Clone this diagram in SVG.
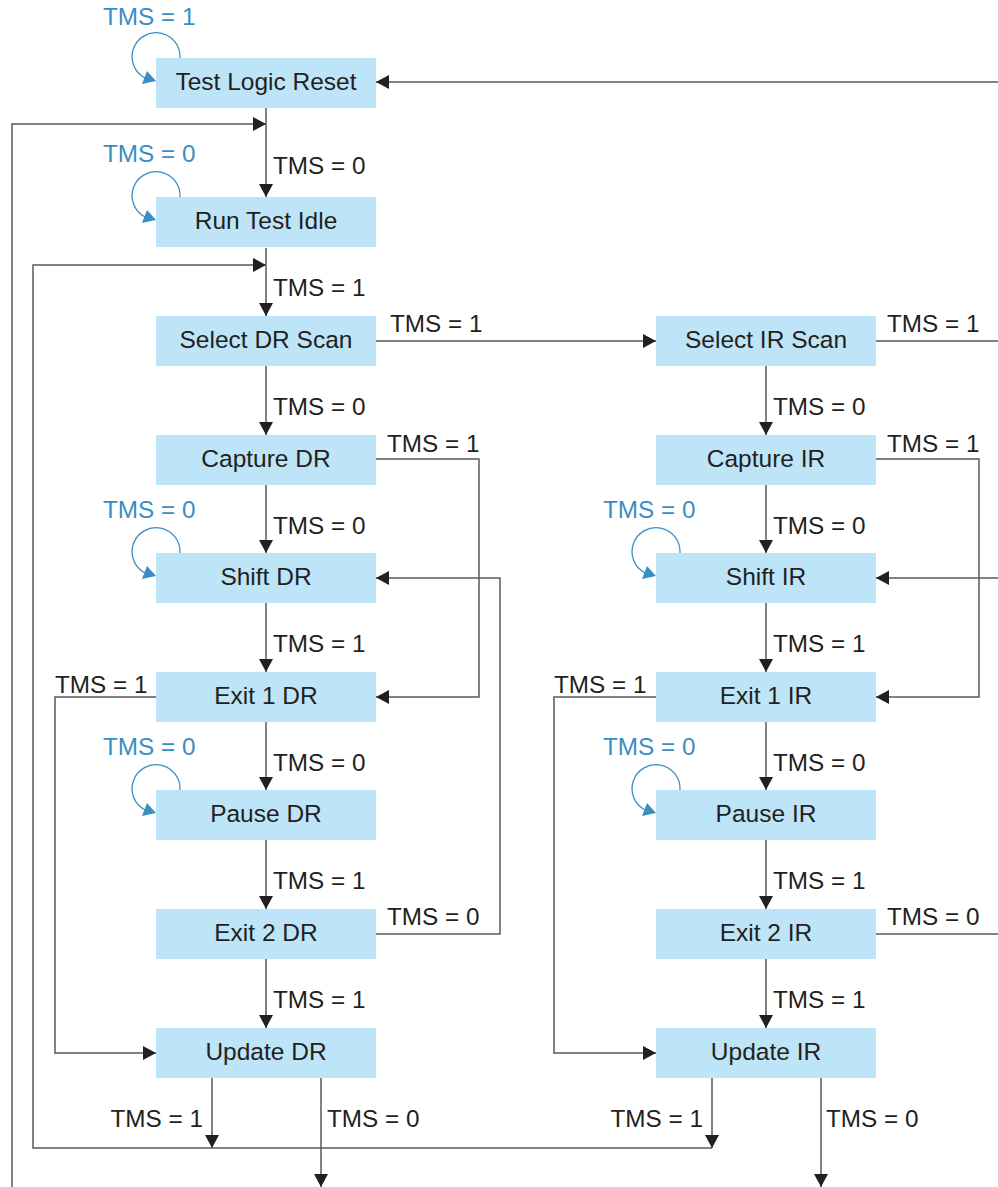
<svg xmlns="http://www.w3.org/2000/svg" width="998" height="1187" viewBox="0 0 998 1187">
<style>
.box{fill:#bde4f7}
.bt{font-family:"Liberation Sans",Arial,sans-serif;font-size:24.5px;fill:#231f20;text-anchor:middle}
.lb{font-family:"Liberation Sans",Arial,sans-serif;font-size:24.3px;fill:#231f20}
.bl{font-family:"Liberation Sans",Arial,sans-serif;font-size:24.3px;fill:#3b8ec2}
.ln{fill:none;stroke:#58595b;stroke-width:1.5}
.ar{fill:none;stroke:#58595b;stroke-width:1.5;marker-end:url(#ah)}
.loop{fill:none;stroke:#3b8ec2;stroke-width:1.3}
.lh{fill:#3b8ec2}
</style>
<defs>
<marker id="ah" markerUnits="userSpaceOnUse" markerWidth="13" markerHeight="14" refX="13" refY="7" orient="auto">
<path d="M0,0 L13,7 L0,14 z" fill="#231f20"/>
</marker>
</defs>
<rect width="998" height="1187" fill="#ffffff"/>
<g id="connectors">
<path class="ar" d="M266 108 V197"/>
<path class="ar" d="M12 1187 V124 H266"/>
<path class="ar" d="M266 248 V316"/>
<path class="ar" d="M712 1148 H33 V265 H266"/>
<path class="ar" d="M376 341 H656"/>
<path class="ln" d="M876 341 H998"/>
<path class="ar" d="M998 82 H376"/>
<path class="ar" d="M266 366 V435"/>
<path class="ar" d="M266 485 V553"/>
<path class="ar" d="M266 603 V672"/>
<path class="ar" d="M266 722 V790"/>
<path class="ar" d="M266 840 V909"/>
<path class="ar" d="M266 959 V1028"/>
<path class="ar" d="M376 459 H479 V697 H376"/>
<path class="ar" d="M376 934 H500 V578 H376"/>
<path class="ar" d="M156 697 H55 V1053 H156"/>
<path class="ar" d="M212 1078 V1148"/>
<path class="ar" d="M321 1078 V1187"/>
<path class="ar" d="M766 366 V435"/>
<path class="ar" d="M766 485 V553"/>
<path class="ar" d="M766 603 V672"/>
<path class="ar" d="M766 722 V790"/>
<path class="ar" d="M766 840 V909"/>
<path class="ar" d="M766 959 V1028"/>
<path class="ar" d="M876 459 H979 V697 H876"/>
<path class="ar" d="M998 578 H876"/>
<path class="ln" d="M876 934 H998"/>
<path class="ar" d="M656 697 H554 V1053 H656"/>
<path class="ar" d="M712 1078 V1148"/>
<path class="ar" d="M821 1078 V1187"/>
</g>
<g id="labels">
<text class="lb" x="273" y="174">TMS = 0</text>
<text class="lb" x="273" y="296">TMS = 1</text>
<text class="lb" x="390" y="332">TMS = 1</text>
<text class="lb" x="887" y="332">TMS = 1</text>
<text class="lb" x="273" y="415">TMS = 0</text>
<text class="lb" x="773" y="415">TMS = 0</text>
<text class="lb" x="387" y="452">TMS = 1</text>
<text class="lb" x="887" y="452">TMS = 1</text>
<text class="lb" x="273" y="534">TMS = 0</text>
<text class="lb" x="773" y="534">TMS = 0</text>
<text class="lb" x="273" y="652">TMS = 1</text>
<text class="lb" x="773" y="652">TMS = 1</text>
<text class="lb" x="55" y="693">TMS = 1</text>
<text class="lb" x="554" y="693">TMS = 1</text>
<text class="lb" x="273" y="771">TMS = 0</text>
<text class="lb" x="773" y="771">TMS = 0</text>
<text class="lb" x="273" y="889">TMS = 1</text>
<text class="lb" x="773" y="889">TMS = 1</text>
<text class="lb" x="387" y="925">TMS = 0</text>
<text class="lb" x="887" y="925">TMS = 0</text>
<text class="lb" x="273" y="1008">TMS = 1</text>
<text class="lb" x="773" y="1008">TMS = 1</text>
<text class="lb" x="203" y="1127" text-anchor="end">TMS = 1</text>
<text class="lb" x="327" y="1127">TMS = 0</text>
<text class="lb" x="703" y="1127" text-anchor="end">TMS = 1</text>
<text class="lb" x="826" y="1127">TMS = 0</text>
</g>
<g id="tlr">
<path class="loop" d="M180 58 A24 24 0 1 0 145 78"/>
<polygon class="lh" points="156,81 142,84 147,71"/>
<text class="bl" x="103" y="25">TMS = 1</text>
<rect class="box" x="156" y="58" width="220" height="50"/>
<text class="bt" x="266" y="90">Test Logic Reset</text>
</g>
<g id="rti">
<path class="loop" d="M180 197 A24 24 0 1 0 145 217"/>
<polygon class="lh" points="156,220 142,223 147,210"/>
<text class="bl" x="103" y="162">TMS = 0</text>
<rect class="box" x="156" y="197" width="220" height="50"/>
<text class="bt" x="266" y="229">Run Test Idle</text>
</g>
<g id="seldr">
<rect class="box" x="156" y="316" width="220" height="50"/>
<text class="bt" x="266" y="348">Select DR Scan</text>
</g>
<g id="capdr">
<rect class="box" x="156" y="435" width="220" height="50"/>
<text class="bt" x="266" y="467">Capture DR</text>
</g>
<g id="shiftdr">
<path class="loop" d="M180 553 A24 24 0 1 0 145 573"/>
<polygon class="lh" points="156,576 142,579 147,566"/>
<text class="bl" x="103" y="518">TMS = 0</text>
<rect class="box" x="156" y="553" width="220" height="50"/>
<text class="bt" x="266" y="585">Shift DR</text>
</g>
<g id="exit1dr">
<rect class="box" x="156" y="672" width="220" height="50"/>
<text class="bt" x="266" y="704">Exit 1 DR</text>
</g>
<g id="pausedr">
<path class="loop" d="M180 790 A24 24 0 1 0 145 810"/>
<polygon class="lh" points="156,813 142,816 147,803"/>
<text class="bl" x="103" y="755">TMS = 0</text>
<rect class="box" x="156" y="790" width="220" height="50"/>
<text class="bt" x="266" y="822">Pause DR</text>
</g>
<g id="exit2dr">
<rect class="box" x="156" y="909" width="220" height="50"/>
<text class="bt" x="266" y="941">Exit 2 DR</text>
</g>
<g id="updatedr">
<rect class="box" x="156" y="1028" width="220" height="50"/>
<text class="bt" x="266" y="1060">Update DR</text>
</g>
<g id="selir">
<rect class="box" x="656" y="316" width="220" height="50"/>
<text class="bt" x="766" y="348">Select IR Scan</text>
</g>
<g id="capir">
<rect class="box" x="656" y="435" width="220" height="50"/>
<text class="bt" x="766" y="467">Capture IR</text>
</g>
<g id="shiftir">
<path class="loop" d="M680 553 A24 24 0 1 0 645 573"/>
<polygon class="lh" points="656,576 642,579 647,566"/>
<text class="bl" x="603" y="518">TMS = 0</text>
<rect class="box" x="656" y="553" width="220" height="50"/>
<text class="bt" x="766" y="585">Shift IR</text>
</g>
<g id="exit1ir">
<rect class="box" x="656" y="672" width="220" height="50"/>
<text class="bt" x="766" y="704">Exit 1 IR</text>
</g>
<g id="pauseir">
<path class="loop" d="M680 790 A24 24 0 1 0 645 810"/>
<polygon class="lh" points="656,813 642,816 647,803"/>
<text class="bl" x="603" y="755">TMS = 0</text>
<rect class="box" x="656" y="790" width="220" height="50"/>
<text class="bt" x="766" y="822">Pause IR</text>
</g>
<g id="exit2ir">
<rect class="box" x="656" y="909" width="220" height="50"/>
<text class="bt" x="766" y="941">Exit 2 IR</text>
</g>
<g id="updateir">
<rect class="box" x="656" y="1028" width="220" height="50"/>
<text class="bt" x="766" y="1060">Update IR</text>
</g>
</svg>
